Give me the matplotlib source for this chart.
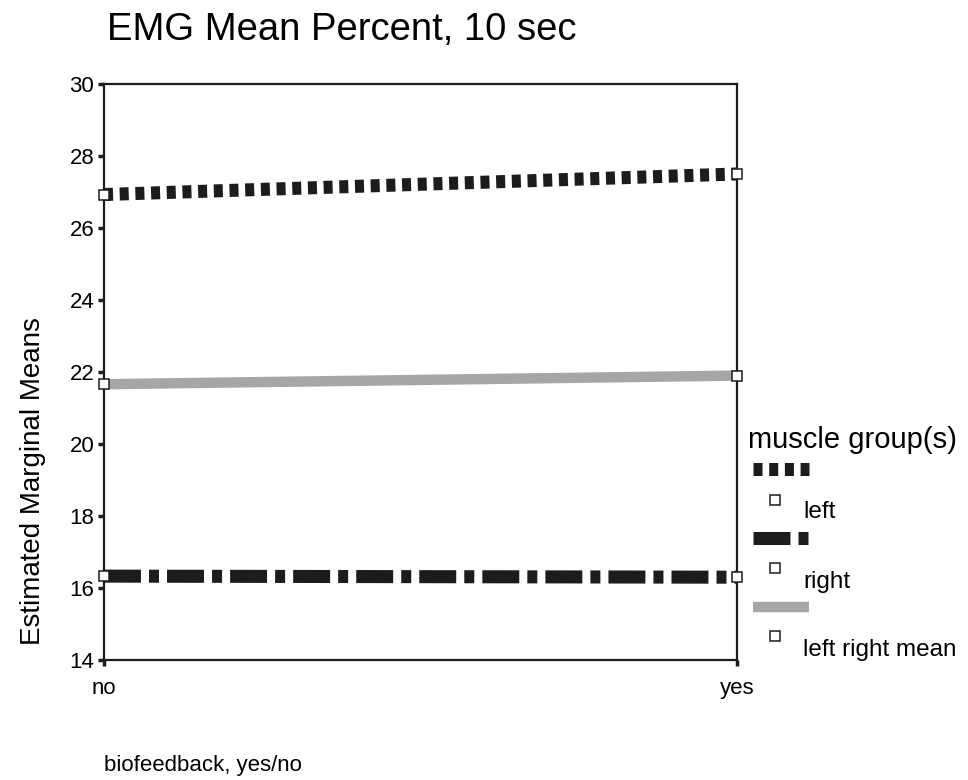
import matplotlib
matplotlib.use("Agg")
import matplotlib.pyplot as plt
from matplotlib.lines import Line2D

plt.rcParams.update({
    "font.family": ["Liberation Sans", "DejaVu Sans"],
    "lines.scale_dashes": False,
})

# data
groups = ["no", "yes"]
left = [26.93, 27.50]
right = [16.33, 16.30]
lr_mean = [21.66, 21.90]
yticks = [14, 16, 18, 20, 22, 24, 26, 28, 30]
series_labels = ["left", "right", "left right mean"]

DARK = "#1c1c1c"
GRAYL = "#a6a6a6"
styles = [
    dict(color=DARK, lw=9.4, linestyle=(0, (6.5, 4.8)), solid_capstyle="butt", dash_capstyle="butt"),
    dict(color=DARK, lw=9.4, linestyle=(0, (26.6, 5.8, 7.2, 5.8)), solid_capstyle="butt", dash_capstyle="butt"),
    dict(color=GRAYL, lw=7.5, linestyle="-", solid_capstyle="butt", dash_capstyle="butt"),
]
mk = dict(marker="s", markersize=7.5, markerfacecolor="white", markeredgecolor=DARK,
          markeredgewidth=1.1, linestyle="none")

fig = plt.figure(figsize=(9.68, 7.8), dpi=100)
ax = fig.add_axes([104 / 968, 1 - 660 / 780, (737 - 104) / 968, (660 - 84) / 780])

x = list(range(len(groups)))
for vals, st in zip([left, right, lr_mean], styles):
    ax.plot(x, vals, zorder=2, **st)
    ax.plot(x, vals, zorder=4, clip_on=False, **mk)

ax.set_xlim(0, 1)
ax.set_ylim(14, 30)
ax.set_xticks(x)
ax.set_xticklabels(groups, fontsize=16)
ax.set_yticks(yticks)
ax.set_yticklabels([str(t) for t in yticks], fontsize=16)
for s in ax.spines.values():
    s.set_linewidth(1.6)
    s.set_color(DARK)
ax.tick_params(axis="both", direction="out", length=4, width=2.5, color=DARK, pad=3)
ax.tick_params(axis="x", pad=9)

fig.text(33 / 968, 1 - 481 / 780, "Estimated Marginal Means", fontsize=20,
         rotation=90, va="center", ha="center")
fig.text(107 / 968, 1 - 30 / 780, "EMG Mean Percent, 10 sec", fontsize=27.5, va="center", ha="left")
fig.text(104 / 968, 1 - 765 / 780, "biofeedback, yes/no", fontsize=16, va="center", ha="left")

# hand-built legend in figure pixels
fig.text(748 / 968, 1 - 440 / 780, "muscle group(s)", fontsize=21, va="center", ha="left")
line_y = [469, 538, 607]
mark_y = [500, 568, 636]
lab_y = [512, 582, 650]
for ly, my, lby, st, lab in zip(line_y, mark_y, lab_y, styles, series_labels):
    fig.add_artist(Line2D([753 / 968, 809 / 968], [1 - ly / 780, 1 - ly / 780],
                          transform=fig.transFigure, **st))
    fig.add_artist(Line2D([775 / 968], [1 - my / 780], transform=fig.transFigure, **mk))
    fig.text(803 / 968, 1 - lby / 780, lab, fontsize=17.5, va="center", ha="left")

fig.savefig("out.png", dpi=100)
